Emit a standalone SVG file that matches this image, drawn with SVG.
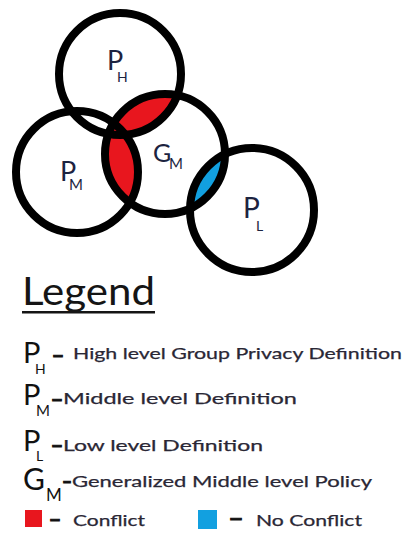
<svg xmlns="http://www.w3.org/2000/svg" width="406" height="533" viewBox="0 0 406 533">
<style>
.ring{fill:none;stroke:#000;stroke-width:8}
.lbl{font-family:Lato,"Liberation Sans",sans-serif;fill:#1c2340}
.big{font-family:Lato,"Liberation Sans",sans-serif;fill:#111}
.row{font-family:Lato,"Liberation Sans",sans-serif;font-size:16px;fill:#2a2735;stroke:#2a2735;stroke-width:0.25}
.dash{font-family:"Liberation Sans",Arial,sans-serif;font-size:18px;font-weight:bold;fill:#111;stroke:#111;stroke-width:1}
</style>
<defs>
<clipPath id="cPH"><circle cx="120" cy="74" r="61"/></clipPath>
<clipPath id="cPM"><circle cx="77" cy="172" r="61"/></clipPath>
<clipPath id="cPL"><circle cx="252" cy="210" r="62"/></clipPath>
</defs>
<rect width="406" height="533" fill="#fff"/>
<g id="fills">
<circle cx="165" cy="154" r="60" fill="#e8161e" clip-path="url(#cPH)"/>
<circle cx="165" cy="154" r="60" fill="#e8161e" clip-path="url(#cPM)"/>
<circle cx="165" cy="154" r="60" fill="#12a0e0" clip-path="url(#cPL)"/>
</g>
<g id="PH"><circle class="ring" cx="120" cy="74" r="61"/>
<text class="lbl" x="107" y="70" font-size="27">P</text><text class="lbl" x="117" y="82" font-size="14">H</text></g>
<g id="PM"><circle class="ring" cx="77" cy="172" r="61"/>
<text class="lbl" x="60" y="181" font-size="27">P</text><text class="lbl" x="69" y="190" font-size="15">M</text></g>
<g id="GM"><circle class="ring" cx="165" cy="154" r="60"/>
<text class="lbl" x="153" y="162" font-size="25">G</text><text class="lbl" x="169" y="169" font-size="15">M</text></g>
<g id="PL"><circle class="ring" cx="252" cy="210" r="62"/>
<text class="lbl" x="243" y="218" font-size="28">P</text><text class="lbl" x="256" y="231" font-size="14">L</text></g>
<g id="connectors"></g>
<g id="legend">
<text x="22" y="305" font-family="Lato,'Liberation Sans',sans-serif" font-size="39" fill="#151515" textLength="133" lengthAdjust="spacingAndGlyphs">Legend</text>
<rect x="22" y="311" width="133" height="2.5" fill="#151515"/>
<text class="big" x="23" y="363" font-size="29">P</text><text class="big" x="35" y="374" font-size="14">H</text>
<text class="dash" x="53" y="361" textLength="10" lengthAdjust="spacingAndGlyphs">–</text>
<text class="row" x="73" y="359" textLength="329" lengthAdjust="spacingAndGlyphs">High level Group Privacy Definition</text>
<text class="big" x="23" y="405" font-size="29">P</text><text class="big" x="36" y="416" font-size="15">M</text>
<text class="dash" x="52" y="405" textLength="10" lengthAdjust="spacingAndGlyphs">–</text>
<text class="row" x="63" y="404" textLength="234" lengthAdjust="spacingAndGlyphs">Middle level Definition</text>
<text class="big" x="23" y="451" font-size="29">P</text><text class="big" x="36" y="461" font-size="14">L</text>
<text class="dash" x="52" y="451" textLength="10" lengthAdjust="spacingAndGlyphs">–</text>
<text class="row" x="63" y="451" textLength="200" lengthAdjust="spacingAndGlyphs">Low level Definition</text>
<text class="big" x="23" y="490" font-size="30">G</text><text class="big" x="46" y="501" font-size="17">M</text>
<text class="dash" x="63" y="487" textLength="8" lengthAdjust="spacingAndGlyphs">–</text>
<text class="row" x="72" y="487" textLength="300" lengthAdjust="spacingAndGlyphs">Generalized Middle level Policy</text>
<rect x="25" y="510" width="17" height="17" fill="#e8161e"/>
<text class="dash" x="50" y="525" textLength="10" lengthAdjust="spacingAndGlyphs">–</text>
<text class="row" x="73" y="526" textLength="72" lengthAdjust="spacingAndGlyphs">Conflict</text>
<rect x="198" y="510" width="19" height="19" fill="#12a0e0"/>
<text class="dash" x="230" y="524" textLength="12" lengthAdjust="spacingAndGlyphs">–</text>
<text class="row" x="256" y="526" textLength="106" lengthAdjust="spacingAndGlyphs">No Conflict</text>
</g>
</svg>
